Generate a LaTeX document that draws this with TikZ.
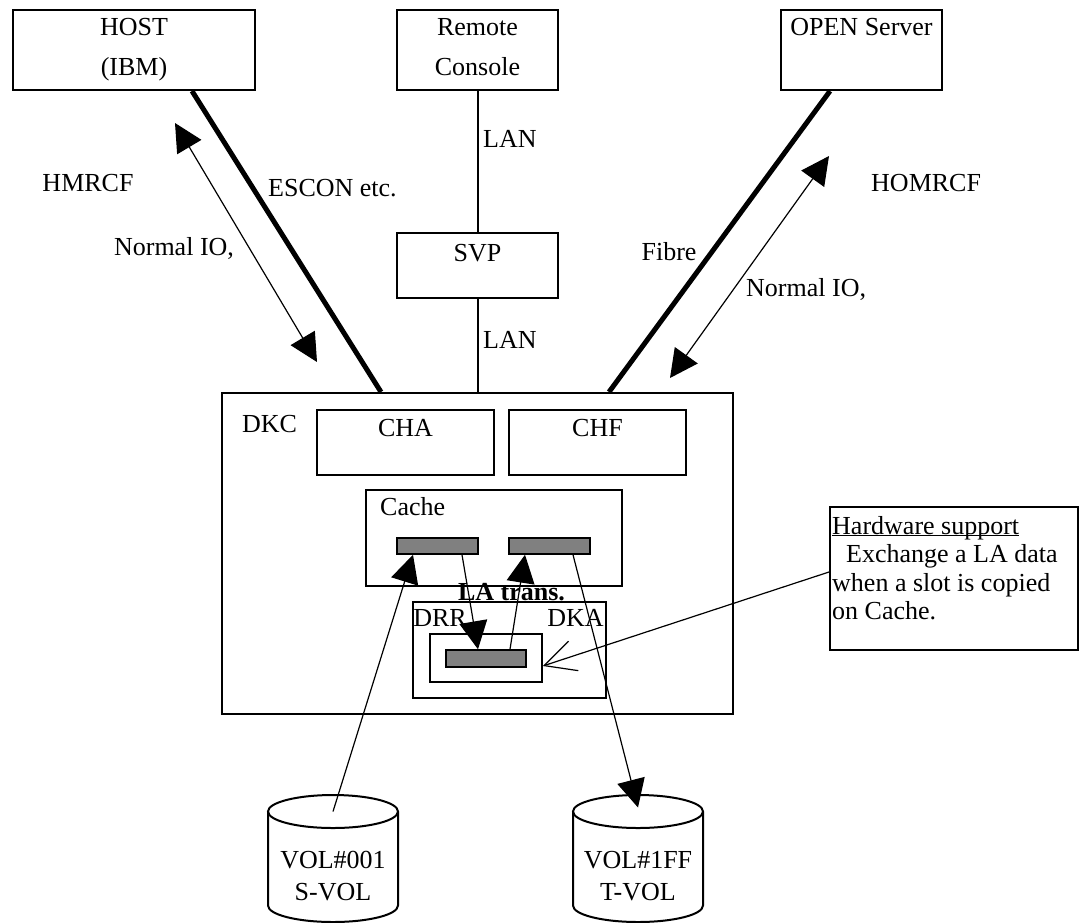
\documentclass[tikz,border=0pt]{standalone}
\usepackage{fontspec}
\setmainfont{Liberation Serif}
\usetikzlibrary{arrows.meta}

% underline sitting just below the baseline
\newcommand\hwul[1]{\setbox0=\hbox{#1}\rlap{\rule[-1.5pt]{\wd0}{1.2pt}}\box0}

\begin{document}
\begin{tikzpicture}[x=1pt,y=-1pt,
  box/.style={draw, line width=2pt, inner sep=0pt},
  thinbox/.style={draw, line width=1.5pt, inner sep=0pt},
  slot/.style={draw, line width=1.5pt, fill=gray, minimum width=81pt, minimum height=16pt, inner sep=0pt},
  lbl/.style={inner sep=0pt, font=\fontsize{26}{28}\selectfont},
  cable/.style={line width=5pt},
  lan/.style={line width=2pt},
  flow/.style={line width=1.2pt, -{Triangle[length=28pt,width=28pt]}},
  io/.style={line width=1.2pt, {Triangle[length=28pt,width=28pt]}-{Triangle[length=28pt,width=28pt]}},
  disk/.style={line width=2pt}]
\useasboundingbox (0,0) rectangle (1079,922);

% hosts and console
\node[box, minimum width=242pt, minimum height=80pt] (host) at (134,50) {};
\node[lbl, align=center, font=\fontsize{26}{40}\selectfont] (hosttxt) at (134,50) {HOST\\(IBM)};
\node[box, minimum width=161pt, minimum height=80pt] (remote) at (477.5,50) {};
\node[lbl, align=center, font=\fontsize{26}{40}\selectfont] (remotetxt) at (477.5,47) {Remote\\Console};
\node[box, minimum width=161pt, minimum height=80pt] (open) at (861.5,50) {};
\node[lbl] (opentxt) at (861.5,27) {OPEN Server};
\node[box, minimum width=161pt, minimum height=65pt] (svp) at (477.5,265.5) {};
\node[lbl] (svptxt) at (477.5,253) {SVP};

% disk controller
\node[box, minimum width=511pt, minimum height=321pt] (dkc) at (477.5,553.5) {};
\node[lbl] (dkctxt) at (269.5,424) {DKC};
\node[box, minimum width=177pt, minimum height=65pt] (cha) at (405.5,442.5) {};
\node[lbl] (chatxt) at (405.5,428) {CHA};
\node[box, minimum width=177pt, minimum height=65pt] (chf) at (597.5,442.5) {};
\node[lbl] (chftxt) at (597.5,428) {CHF};
\node[thinbox, minimum width=256pt, minimum height=96pt] (cache) at (494,538) {};
\node[lbl, anchor=west] (cachetxt) at (380,507) {Cache};
\node[slot] (cslotl) at (437.5,546) {};
\node[slot] (cslotr) at (549.5,546) {};
\node[box, minimum width=193pt, minimum height=96pt] (drr) at (509.5,650) {};
\node[thinbox, minimum width=112pt, minimum height=48pt] (drrin) at (486,658) {};
\node[slot, minimum width=80pt, minimum height=17pt] (dslot) at (486,658.5) {};
\node[lbl, font=\fontsize{26}{28}\selectfont\bfseries] (latxt) at (511.5,592) {LA trans.};
\node[lbl] (drrtxt) at (440,618) {DRR};
\node[lbl] (dkatxt) at (575.5,618) {DKA};

% volumes (centre of the top face)
\coordinate (svol) at (333,811.5);
\coordinate (tvol) at (638,811.5);
\foreach \v in {svol,tvol}{
  \draw[disk] (\v) ellipse [x radius=65pt, y radius=16.5pt];
  \draw[disk] ([xshift=-65pt]\v) -- ++(0,94)
    arc[start angle=180, end angle=360, x radius=65pt, y radius=16.5pt] -- ++(0,-94);
}
\node[lbl, align=center, font=\fontsize{26}{32}\selectfont] (svoltxt) at (333,876) {VOL\#001\\S-VOL};
\node[lbl, align=center, font=\fontsize{26}{32}\selectfont] (tvoltxt) at (638,876) {VOL\#1FF\\T-VOL};

% note box
\node[box, minimum width=248pt, minimum height=143pt] (hw) at (954,578.5) {};
\node[lbl, anchor=north west, align=left, font=\fontsize{26}{28.5}\selectfont] (hwtxt) at (832,516)
  {\hwul{Hardware support}\\\hspace*{14pt}Exchange a LA data\\when a slot is copied\\on Cache.};

% cables
\draw[cable] ([xshift=58pt]host.south) -- ([xshift=-96.5pt]dkc.north);
\draw[cable] ([xshift=-31.5pt]open.south) -- ([xshift=131.5pt]dkc.north);
\draw[lan] (remote.south) -- (svp.north);
\draw[lan] (svp.south) -- (dkc.north);
\node[lbl, anchor=west] (lan1) at (483,139) {LAN};
\node[lbl, anchor=west] (lan2) at (483,340) {LAN};
\node[lbl, anchor=west] (escon) at (268,188) {ESCON etc.};
\node[lbl] (fibre) at (669,252) {Fibre};

% normal IO
\coordinate (hioa) at (175,123);
\coordinate (hiob) at (317,362);
\coordinate (oioa) at (829,156);
\coordinate (oiob) at (670,378);
\draw[io] (hioa) -- (hiob);
\draw[io] (oioa) -- (oiob);
\node[lbl] (hmrcf) at (88,183) {HMRCF};
\node[lbl] (hio) at (174,248) {Normal IO,};
\node[lbl, anchor=west] (homrcf) at (871,183) {HOMRCF};
\node[lbl, anchor=west] (oio) at (746,289) {Normal IO,};

% slot copies
\draw[flow] (svol) -- ([xshift=-24.5pt]cslotl.south);
\draw[flow] ([xshift=24.5pt]cslotl.south) -- ([xshift=-8pt]dslot.north);
\draw[flow] ([xshift=24pt]dslot.north) -- ([xshift=-24.5pt]cslotr.south);
\draw[flow] ([xshift=23.5pt]cslotr.south) -- ([yshift=4pt]tvol);
\draw[line width=1.2pt, -{Straight Barb[length=31pt,width=31pt]}] ([yshift=6.5pt]hw.west) -- ([yshift=-8pt]drrin.east);
\end{tikzpicture}
\end{document}
